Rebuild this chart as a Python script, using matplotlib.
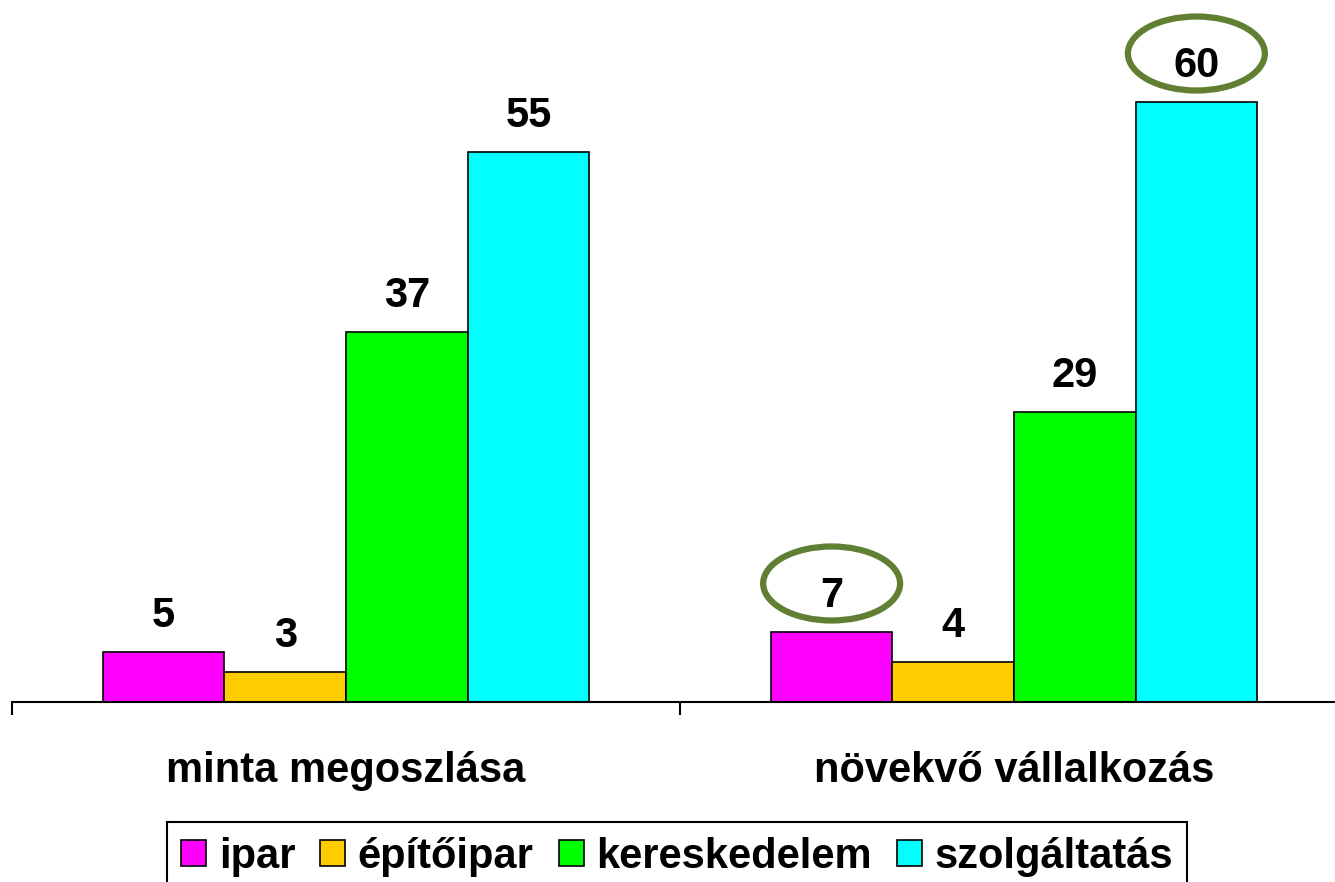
import numpy as np
import matplotlib
matplotlib.use("Agg")
import matplotlib.pyplot as plt
from matplotlib.patches import Ellipse, Patch

plt.rcParams['font.family'] = ['Liberation Sans', 'DejaVu Sans']

groups = ["minta megoszlása", "növekvő vállalkozás"]
sectors = ["ipar", "építőipar", "kereskedelem", "szolgáltatás"]
colors = ["#FF00FF", "#FFCC00", "#00FF00", "#00FFFF"]
values = [[5, 3, 37, 55],
          [7, 4, 29, 60]]
# (group index, sector index) of the circled labels
circled = [(1, 0), (1, 3)]

fig = plt.figure(figsize=(13.35, 8.82), dpi=100)
ax = fig.add_axes([12 / 1335, 180 / 882, 1336 / 1335, 702 / 882])

x = np.arange(len(groups))
w = 0.182
for i, sec in enumerate(sectors):
    vals = [values[g][i] for g in range(len(groups))]
    pos = x + (i - 1.5) * w
    ax.bar(pos, vals, width=w, color=colors[i], edgecolor='black', linewidth=1.2, label=sec)
    for px, v in zip(pos, vals):
        ax.text(px, v + 2.5, str(v), ha='center', va='baseline',
                fontsize=30, fontweight='bold')

for g, i in circled:
    px = x[g] + (i - 1.5) * w
    v = values[g][i]
    ax.add_patch(Ellipse((px, v + 4.85), 0.205, 7.4, fill=False,
                         edgecolor='#617F33', linewidth=4.5, clip_on=False))

ax.set_xlim(-0.5, 1.5)
ax.set_ylim(0, 70.2)
ax.set_yticks([])
for s in ['left', 'right', 'top']:
    ax.spines[s].set_visible(False)
ax.spines['bottom'].set_linewidth(1.5)
ax.set_xticks([-0.5, 0.5, 1.5])
ax.set_xticklabels([])
ax.tick_params(axis='x', direction='out', length=9.5, width=1.5)

for g, name in enumerate(groups):
    ax.text(x[g], -0.098, name, transform=ax.get_xaxis_transform(),
            ha='center', va='center', fontsize=30, fontweight='bold')

handles = [Patch(facecolor=c, edgecolor='black', linewidth=1.2) for c in colors]
leg = fig.legend(handles, sectors, loc='upper center', ncol=4,
                 bbox_to_anchor=(677 / 1335, 60 / 882),
                 prop={'size': 30, 'weight': 'bold'},
                 frameon=True, fancybox=False, framealpha=1,
                 edgecolor='black', borderpad=0.35, handlelength=0.6,
                 handleheight=0.6, handletextpad=0.3, columnspacing=0.6,
                 borderaxespad=0)
leg.get_frame().set_linewidth(1.5)

fig.savefig("out.png", dpi=100)
